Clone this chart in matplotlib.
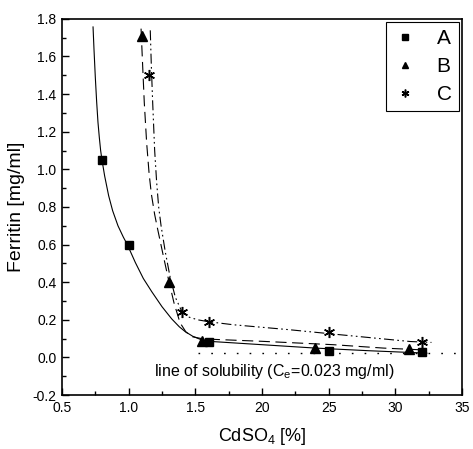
import numpy as np
import matplotlib
matplotlib.use('Agg')
import matplotlib.pyplot as plt
import matplotlib.ticker as ticker

plt.rcParams['font.family'] = ['Liberation Sans', 'DejaVu Sans']
plt.rcParams['mathtext.fontset'] = 'custom'
plt.rcParams['mathtext.rm'] = 'Liberation Sans'
plt.rcParams['mathtext.it'] = 'Liberation Sans:italic'

# Measured points (x axis is drawn in tenths: "20" on the axis = 2.0 here)
a_x = [0.8, 1.0, 1.6, 2.5, 3.2]
a_y = [1.05, 0.60, 0.085, 0.032, 0.03]
b_x = [1.1, 1.3, 1.55, 2.4, 3.1]
b_y = [1.71, 0.40, 0.09, 0.05, 0.045]
c_x = [1.15, 1.4, 1.6, 2.5, 3.2]
c_y = [1.50, 0.24, 0.19, 0.135, 0.085]

# Fitted curves
fit_a_x = [0.733, 0.74, 0.75, 0.76, 0.77, 0.78, 0.79, 0.80, 0.82, 0.85, 0.88,
           0.92, 0.96, 0.99, 1.05, 1.11, 1.173, 1.25, 1.323, 1.38, 1.423,
           1.48, 1.535, 1.6, 2.0, 2.4, 2.8, 3.236]
fit_a_y = [1.757, 1.64, 1.49, 1.36, 1.25, 1.17, 1.10, 1.05, 0.965, 0.86, 0.78,
           0.70, 0.64, 0.60, 0.505, 0.42, 0.35, 0.27, 0.205, 0.163, 0.138,
           0.113, 0.097, 0.086, 0.068, 0.050, 0.036, 0.023]
fit_b_x = [1.093, 1.105, 1.117, 1.135, 1.153, 1.17, 1.195, 1.218, 1.26, 1.297,
           1.34, 1.385, 1.43, 1.48, 1.55, 1.65, 2.0, 2.535, 2.91, 3.185]
fit_b_y = [1.748, 1.55, 1.357, 1.14, 0.98, 0.87, 0.76, 0.68, 0.54, 0.42,
           0.29, 0.185, 0.135, 0.11, 0.10, 0.096, 0.086, 0.068, 0.05, 0.041]
fit_c_x = [1.162, 1.17, 1.18, 1.195, 1.21, 1.225, 1.243, 1.275, 1.31, 1.35,
           1.398, 1.45, 1.52, 1.6, 1.785, 2.2, 2.585, 3.11, 3.27]
fit_c_y = [1.739, 1.55, 1.357, 1.10, 0.93, 0.80, 0.70, 0.56, 0.43, 0.32,
           0.245, 0.215, 0.20, 0.19, 0.174, 0.148, 0.121, 0.085, 0.08]

solubility = 0.023
sol_x_start = 1.52

xtick_pos = [0.5, 1.0, 1.5, 2.0, 2.5, 3.0, 3.5]
xtick_labels = ['0.5', '1.0', '1.5', '20', '25', '30', '35']
ytick_pos = [-0.2, 0.0, 0.2, 0.4, 0.6, 0.8, 1.0, 1.2, 1.4, 1.6, 1.8]
ytick_labels = ['-0.2', '0.0', '0.2', '0.4', '0.6', '0.8', '1.0', '1.2', '1.4', '1.6', '1.8']

fig = plt.figure(figsize=(4.73, 4.49), dpi=100)
ax = fig.add_axes([0.131, 0.120, 0.846, 0.838])

ax.plot(fit_a_x, fit_a_y, color='black', lw=0.8, ls='-')
ax.plot(fit_b_x, fit_b_y, color='black', lw=0.8, ls=(0, (10, 5)))
ax.plot(fit_c_x, fit_c_y, color='black', lw=0.8, ls=(0, (9, 3, 1.5, 3, 1.5, 3)))

ax.plot(a_x, a_y, ls='none', marker='s', ms=5.5, color='black', label='A')
ax.plot(b_x, b_y, ls='none', marker='^', ms=6.5, color='black', label='B')
ax.plot(c_x, c_y, ls='none', marker=(6, 2, 0), ms=8, mew=1.1, color='black', label='C')

ax.plot([sol_x_start, 3.5], [solubility, solubility], color='black', lw=1.0,
        ls=(0, (1.2, 8)))
ax.text(2.09, -0.077, 'line of solubility (C$_\\mathrm{e}$=0.023 mg/ml)',
        ha='center', va='center', fontsize=11.5)

ax.set_xlim(0.5, 3.5)
ax.set_ylim(-0.2, 1.8)
ax.set_xticks(xtick_pos)
ax.set_xticklabels(xtick_labels)
ax.set_yticks(ytick_pos)
ax.set_yticklabels(ytick_labels)
ax.xaxis.set_minor_locator(ticker.AutoMinorLocator(2))
ax.yaxis.set_minor_locator(ticker.AutoMinorLocator(2))
ax.tick_params(which='both', direction='in', top=False, right=False, width=1.0)
ax.tick_params(which='major', length=5, labelsize=10, pad=4)
ax.tick_params(which='minor', length=3)
for sp in ax.spines.values():
    sp.set_linewidth(1.2)

ax.set_xlabel('CdSO$_4$ [%]', fontsize=13, labelpad=8)
ax.set_ylabel('Ferritin [mg/ml]', fontsize=14, labelpad=5)

leg = ax.legend(loc='upper right', bbox_to_anchor=(0.997, 0.997), borderaxespad=0.1,
                fontsize=15, fancybox=False, edgecolor='black', framealpha=1,
                markerscale=0.7, handlelength=1.2, handletextpad=0.9,
                labelspacing=0.42, borderpad=0.35)
leg.get_frame().set_linewidth(0.8)

fig.savefig('out.png', dpi=100)
